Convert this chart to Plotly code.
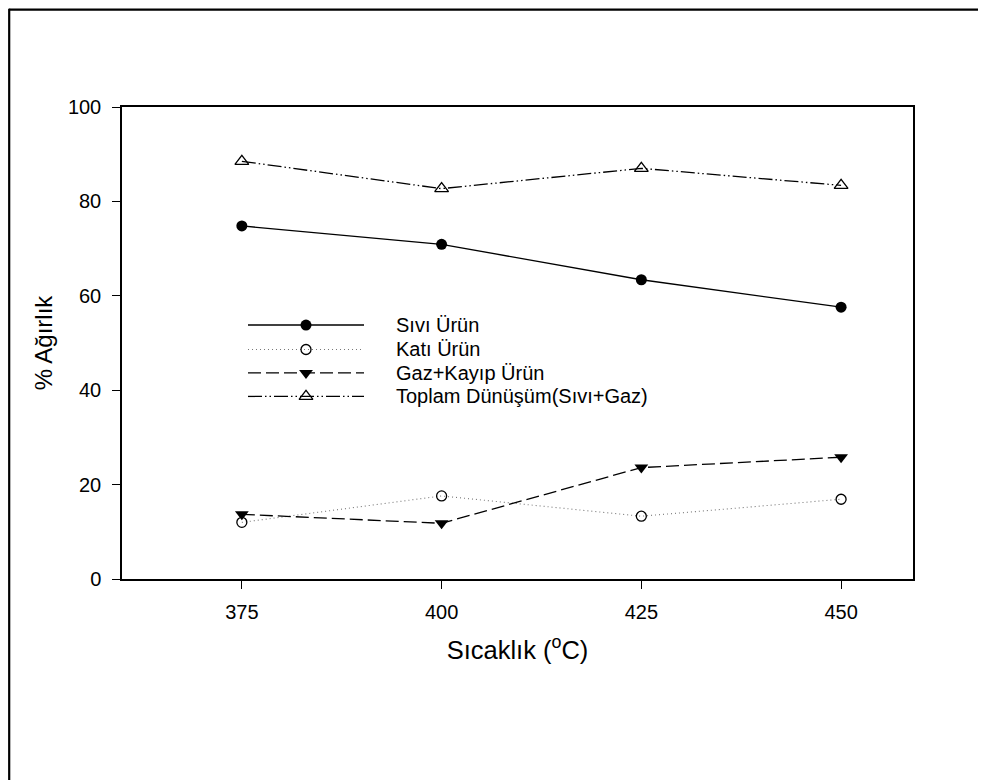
import plotly.graph_objects as go

# ---- data ----
temps = [375, 400, 425, 450]
sivi = [74.8, 70.9, 63.4, 57.6]
kati = [12.0, 17.6, 13.3, 16.9]
gaz = [13.7, 11.8, 23.6, 25.8]
toplam = [88.5, 82.7, 87.0, 83.4]
series_names = ["Sıvı Ürün", "Katı Ürün", "Gaz+Kayıp Ürün", "Toplam Dünüşüm(Sıvı+Gaz)"]
x_ticks = [375, 400, 425, 450]
y_ticks = [0, 20, 40, 60, 80, 100]

FONT = "Arial, Liberation Sans, sans-serif"

# page geometry in pixels (decorations only); page body has an 8px offset
OFF = 8
PW, PH = 987, 780
L, R, T, B = 122, 913, 106.7, 579.3
W, H = PW - OFF, PH - OFF

styles = [
    dict(line=dict(color="black", width=1.3, dash="solid"),
         marker=dict(symbol="circle", size=11, color="black")),
    dict(line=dict(color="#777777", width=1.1, dash="1px,3px"),
         marker=dict(symbol="circle-open", size=10, color="black", line=dict(width=1.3))),
    dict(line=dict(color="black", width=1.3, dash="13px,5px"),
         marker=dict(symbol="triangle-down", size=12, color="black")),
    dict(line=dict(color="black", width=1.3, dash="14px,3px,1.5px,3px,1.5px,3px"),
         marker=dict(symbol="triangle-up-open", size=12, color="black", line=dict(width=1.3))),
]

fig = go.Figure()
for name, vals, st in zip(series_names, [sivi, kati, gaz, toplam], styles):
    fig.add_trace(go.Scatter(x=temps, y=vals, mode="lines+markers", name=name,
                             line=st["line"], marker=st["marker"], showlegend=False,
                             cliponaxis=False))

# ---- manual legend drawn on an overlay axis in page-pixel units ----
leg_rows = [325, 349.5, 373, 396.5]
for name, st, yy in zip(series_names, styles, leg_rows):
    fig.add_trace(go.Scatter(x=[248, 364], y=[yy, yy], mode="lines", line=st["line"],
                             xaxis="x2", yaxis="y2", showlegend=False, hoverinfo="skip"))
    fig.add_trace(go.Scatter(x=[306], y=[yy], mode="markers", marker=st["marker"],
                             xaxis="x2", yaxis="y2", showlegend=False, hoverinfo="skip"))
    fig.add_annotation(x=394, y=yy, xref="x2", yref="y2", text=name, showarrow=False,
                       xanchor="left", yanchor="middle",
                       font=dict(family=FONT, size=20, color="black"))

def px(xp):
    return (xp - L) / (R - L)

def py(yp):
    return (B - yp) / (B - T)

# outer frame (top and left edges)
fig.add_shape(type="line", xref="paper", yref="paper", x0=px(9), x1=px(978), y0=py(9.2), y1=py(9.2),
              line=dict(color="black", width=2.2))
fig.add_shape(type="line", xref="paper", yref="paper", x0=px(9.2), x1=px(9.2), y0=py(8.2), y1=py(790),
              line=dict(color="black", width=2.2))

fig.update_layout(
    width=W, height=H,
    margin=dict(l=L - OFF, r=W - (R - OFF), t=T - OFF, b=H - (B - OFF), pad=0),
    paper_bgcolor="white", plot_bgcolor="white",
    font=dict(family=FONT, size=20, color="black"),
    xaxis=dict(range=[360, 459], tickvals=x_ticks, ticktext=[str(v) for v in x_ticks],
               showgrid=False, zeroline=False, showline=True, linecolor="black", linewidth=1.5,
               mirror=True, ticks="outside", ticklen=8, tickwidth=1.2, tickcolor="black",
               tickfont=dict(size=20), ticklabelstandoff=6,
               title=dict(text="Sıcaklık (<sup>o</sup>C)", font=dict(size=25.5), standoff=19)),
    yaxis=dict(range=[0, 100], tickvals=y_ticks, showgrid=False, zeroline=False,
               showline=True, linecolor="black", linewidth=1.5, mirror=True,
               ticks="outside", ticklen=8, tickwidth=1.2, tickcolor="black",
               tickfont=dict(size=20), ticklabelstandoff=7,
               title=dict(text="% Ağırlık", font=dict(size=24), standoff=8)),
    xaxis2=dict(range=[L, R], overlaying="x", visible=False, fixedrange=True),
    yaxis2=dict(range=[B, T], overlaying="y", visible=False, fixedrange=True),
)

fig.write_html("out.html")
